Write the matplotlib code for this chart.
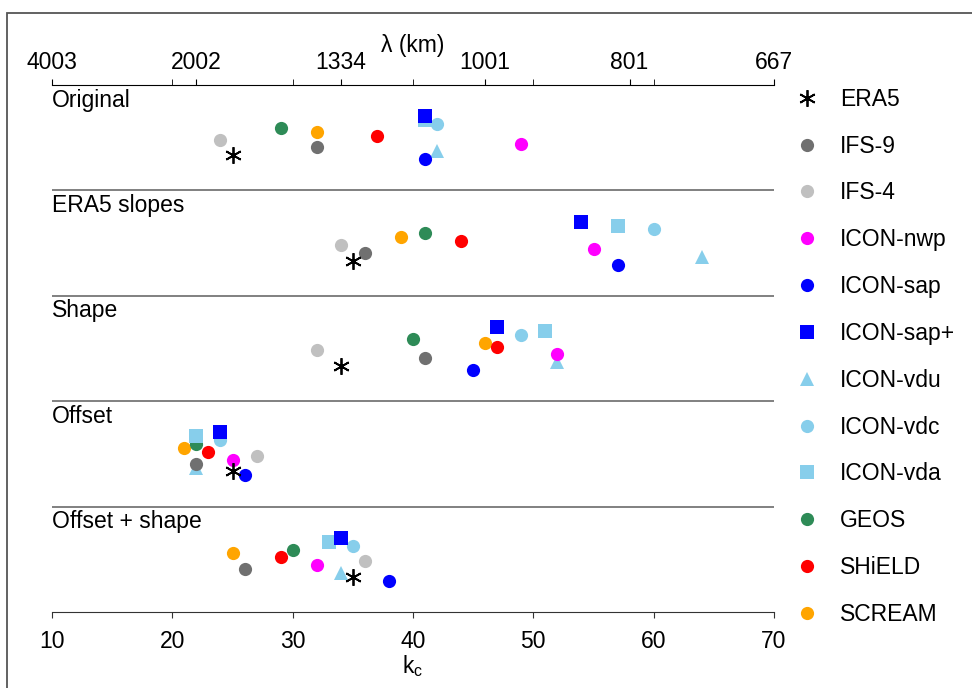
import matplotlib
matplotlib.use('Agg')
import matplotlib.pyplot as plt
from matplotlib.lines import Line2D
from matplotlib.patches import Rectangle

plt.rcParams['font.family'] = ['Liberation Sans', 'DejaVu Sans']
plt.rcParams['mathtext.fontset'] = 'custom'
plt.rcParams['mathtext.rm'] = 'Liberation Sans'
plt.rcParams['mathtext.it'] = 'Liberation Sans'

# experiments (one row each) and models
experiments = ['Original', 'ERA5 slopes', 'Shape', 'Offset', 'Offset + shape']
models = ['ERA5', 'IFS-9', 'IFS-4', 'ICON-nwp', 'ICON-sap', 'ICON-sap+',
          'ICON-vdu', 'ICON-vdc', 'ICON-vda', 'GEOS', 'SHiELD', 'SCREAM']

# k_c per model, in the order of `models`
kc_original = [25, 32, 24, 49, 41, 41, 42, 42, 41, 29, 37, 32]
kc_era5_slopes = [35, 36, 34, 55, 57, 54, 64, 60, 57, 41, 44, 39]
kc_shape = [34, 41, 32, 52, 45, 47, 52, 49, 51, 40, 47, 46]
kc_offset = [25, 22, 27, 25, 26, 24, 22, 24, 22, 22, 23, 21]
kc_offset_shape = [35, 26, 36, 32, 38, 34, 34, 35, 33, 30, 29, 25]
kc_all = [kc_original, kc_era5_slopes, kc_shape, kc_offset, kc_offset_shape]

# top axis: wavelength labels
top_ticks = [10, 22, 34, 46, 58, 70]
top_labels = ['4003', '2002', '1334', '1001', '801', '667']
top_minor = [20, 30, 40, 50, 60]

# styles
colors = ['black', '#707070', '#c0c0c0', '#ff00ff', '#0000ff', '#0000ff',
          '#87ceeb', '#87ceeb', '#87ceeb', '#2e8b57', '#ff0000', '#ffa500']
markers = [(6, 2, 0), 'o', 'o', 'o', 'o', 's', '^', 'o', 's', 'o', 'o', 'o']
# vertical stagger inside each row (0 = highest)
stack_rank = [10, 8, 6, 7, 11, 0, 9, 2, 1, 3, 5, 4]

FS = 16.5


def marker_kw(j):
    if isinstance(markers[j], tuple):
        return dict(marker=markers[j], color=colors[j], markersize=12,
                    markeredgewidth=1.3, linestyle='none')
    return dict(marker=markers[j], color=colors[j], markersize=9.5,
                markeredgewidth=0, linestyle='none')


fig = plt.figure(figsize=(9.72, 6.88), dpi=100)
ax = fig.add_axes([52 / 972, 1 - 612 / 688, (774 - 52) / 972, (612 - 85) / 688])

n = len(models)
for i, vals in enumerate(kc_all):
    for j in range(n - 1, -1, -1):
        y = i + 0.5 + (stack_rank[j] - 5.5) * 0.037
        ax.plot(vals[j], y, zorder=3, **marker_kw(j))
    ax.text(10, i + 0.035, experiments[i], fontsize=FS, va='top', ha='left')

for k in range(1, len(experiments)):
    ax.axhline(k, color='#808080', lw=1.4, zorder=1)

ax.set_xlim(10, 70)
ax.set_ylim(len(experiments), 0)
ax.set_yticks([])
for s in ['left', 'right', 'top']:
    ax.spines[s].set_visible(False)
ax.spines['bottom'].set_color('#333333')
ax.set_xticks([10, 20, 30, 40, 50, 60, 70])
ax.tick_params(axis='x', labelsize=FS, length=4, pad=9, color='#333333')
ax.set_xlabel(r'k$_{\mathregular{c}}$', fontsize=FS, labelpad=0)

ax2 = ax.twiny()
ax2.set_xlim(10, 70)
ax2.set_xticks(top_ticks)
ax2.set_xticklabels(top_labels)
ax2.set_xticks(top_minor, minor=True)
for s in ['left', 'right', 'bottom']:
    ax2.spines[s].set_visible(False)
ax2.tick_params(axis='x', which='both', labelsize=FS, length=4, pad=4)
ax2.set_xlabel('λ (km)', fontsize=FS, labelpad=-1)

handles = [Line2D([], [], **marker_kw(j)) for j in range(n)]
fig.legend(handles, models, loc='upper left', bbox_to_anchor=(795.5 / 972, 1 - 87.7 / 688),
           frameon=False, fontsize=FS, labelspacing=1.04, handlelength=1.0,
           handletextpad=0.94, borderpad=0, borderaxespad=0)

fig.patches.append(Rectangle((7 / 972, -0.05), 1.0, 1 - 13 / 688 + 0.05,
                             transform=fig.transFigure, fill=False,
                             edgecolor='#555555', lw=1.3))

fig.savefig('out.png', dpi=100)
